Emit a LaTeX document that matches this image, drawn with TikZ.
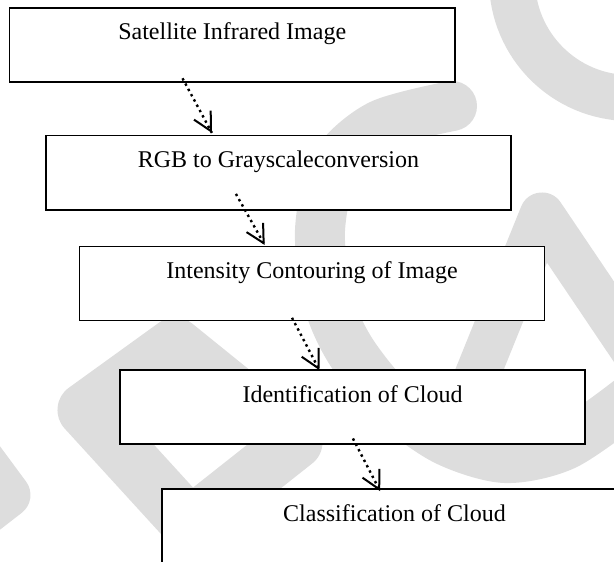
\documentclass[tikz,border=0pt]{standalone}
\usepackage{fontspec}
\setmainfont{Liberation Serif}
\usetikzlibrary{arrows.meta}
\usetikzlibrary{calc}
\usetikzlibrary{decorations.markings}
\tikzset{stage/.style = {draw, fill=white, line width=0.8pt, inner xsep=0pt, inner ysep=0pt,
                         text height=16pt, text depth=21pt, minimum width=232.5pt}}
\tikzset{dotarr/.style = {line width=1.2pt, dash pattern=on 1.2pt off 1.8pt,
                          decoration={markings,
                                      mark=at position 1 with {\arrow[solid, line width=1pt]{Straight Barb[length=9pt, width=9.5pt]}}},
                          postaction={decorate}}}
\tikzset{wm/.style = {wmgray, line join=round}}
\definecolor{wmgray}{RGB}{221,221,221}

\begin{document}
\begin{tikzpicture}[x=0.5pt, y=-0.5pt, font=\fontsize{12}{14}\selectfont]
    \useasboundingbox (0, 0) rectangle (614, 561);
    \clip (0, 0) rectangle (614, 561);

    % watermark
    \draw [wm, line width=23pt] (630, -20) circle [radius=118];
    \draw [wm, line width=25pt, line cap=round] plot [smooth] coordinates
        {(452, 106) (380, 125) (335, 165) (320, 230) (328, 300) (350, 350)
         (390, 400) (445, 440) (505, 458) (565, 445) (630, 400)};
    \draw [wm, line width=22.5pt, line cap=round] (455, 430) -- (542, 215) -- (660, 390);
    \draw [wm, line width=27.5pt] (85, 410) -- (175, 345) -- (295, 442) -- (190, 525) -- cycle;
    \draw [wm, line width=22.5pt] (-40, 430) -- (8, 495) -- (-50, 540);

    \node [stage, minimum width=222.8pt] (sat) at (232.2, 44.8) {Satellite Infrared Image};
    \node [stage] (rgb) at (278.5, 172.7) {RGB to Grayscaleconversion};
    \node [stage] (cont) at (312, 283.3) {Intensity Contouring of Image};
    \node [stage] (ident) at (352.5, 407) {Identification of Cloud};
    \node [stage] (class) at (394.5, 526) {Classification of Cloud};

    \coordinate (s1) at ($(sat.south west) + (173.9, -4.3)$);
    \coordinate (t1) at ($(rgb.north west) + (166.7, -2)$);
    \coordinate (s2) at ($(rgb.south west) + (190.7, -16.6)$);
    \coordinate (t2) at ($(cont.north west) + (186, -0.5)$);
    \coordinate (s3) at ($(cont.south west) + (213.3, -3.3)$);
    \coordinate (t3) at ($(ident.north west) + (200.3, 1)$);
    \coordinate (s4) at ($(ident.south west) + (233.7, -6.3)$);
    \coordinate (t4) at ($(class.north west) + (219, 3)$);

    \draw [dotarr] (s1) -- (t1);
    \draw [dotarr] (s2) -- (t2);
    \draw [dotarr] (s3) -- (t3);
    \draw [dotarr] (s4) -- (t4);
\end{tikzpicture}
\end{document}
